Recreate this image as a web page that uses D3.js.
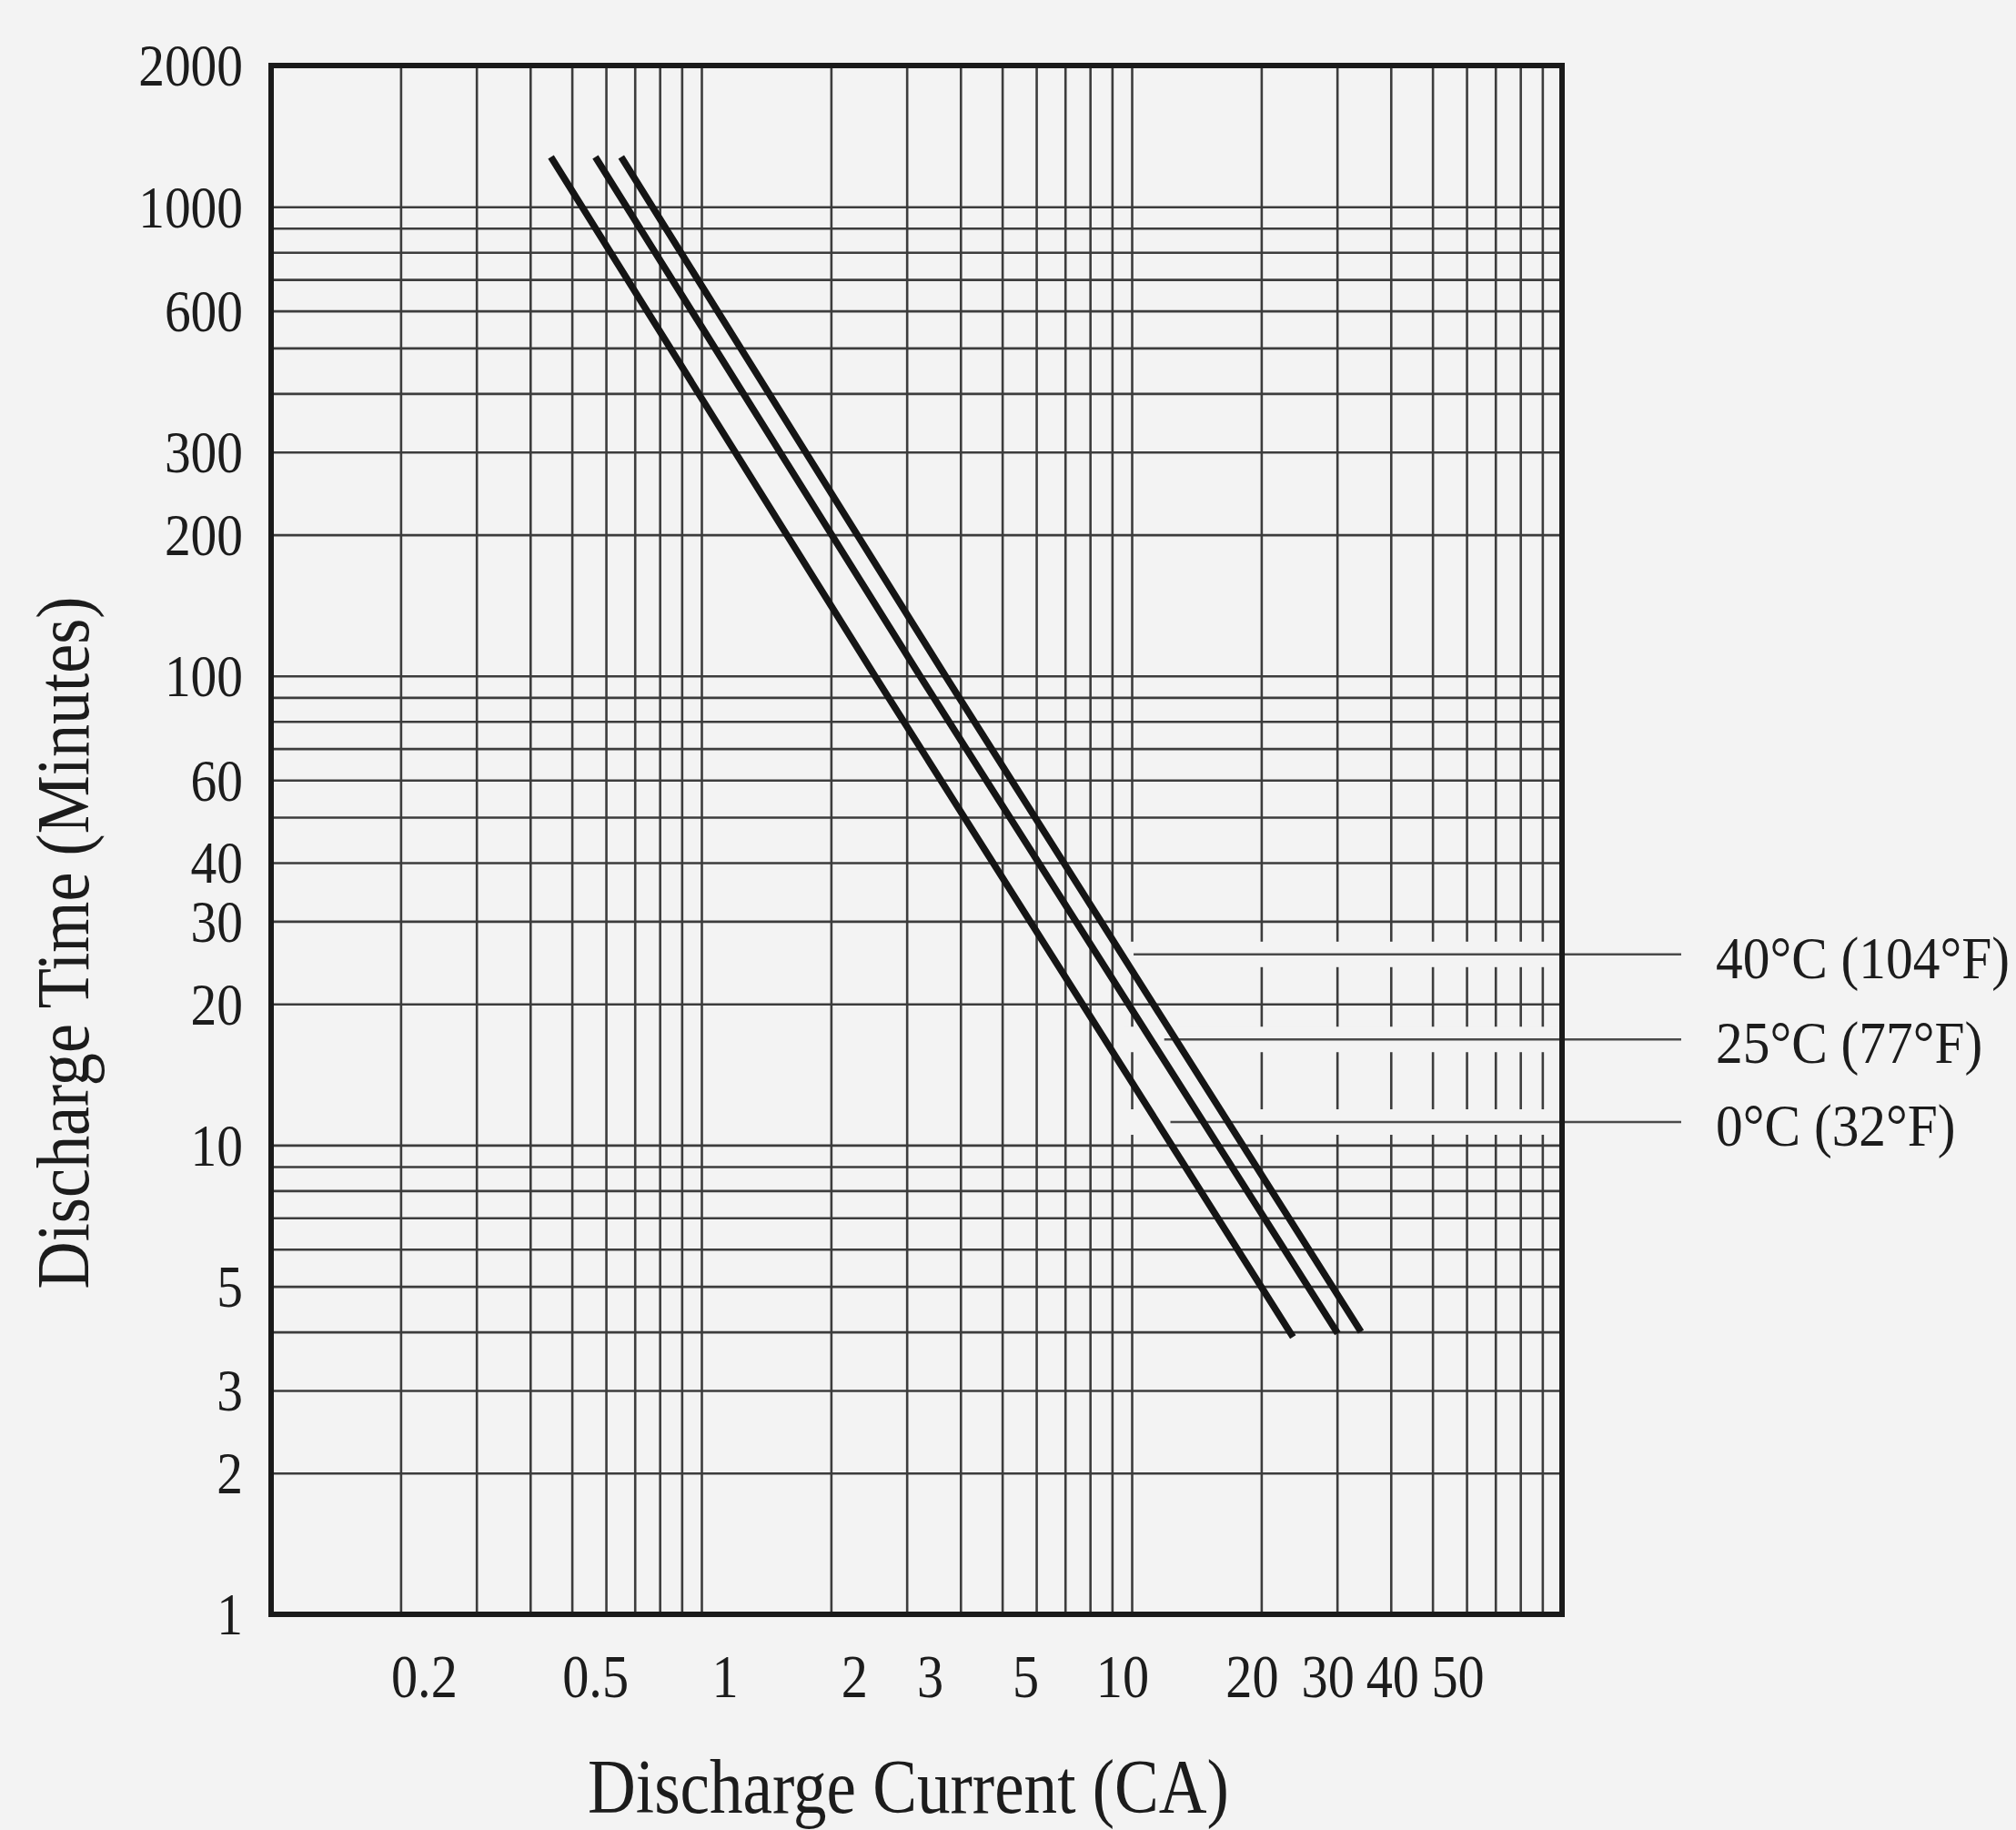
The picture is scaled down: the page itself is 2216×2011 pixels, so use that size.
<!DOCTYPE html>
<html>
<head>
<meta charset="utf-8">
<script src="https://cdn.jsdelivr.net/npm/d3@7"></script>
<style>
  html, body { margin: 0; padding: 0; background: #f3f3f3; }
  svg { display: block; }
  text { font-family: "Liberation Serif", "Times New Roman", serif; fill: #1c1c1c; }
</style>
</head>
<body>
<svg id="chart"></svg>
<script>
// tick labels and grid values
const xTickLabels = [0.2, 0.5, 1, 2, 3, 5, 10, 20, 30, 40, 50];
const yTickLabels = [1, 2, 3, 5, 10, 20, 30, 40, 60, 100, 200, 300, 600, 1000, 2000];
const xGrid = [0.2, 0.3, 0.4, 0.5, 0.6, 0.7, 0.8, 0.9, 1, 2, 3, 4, 5, 6, 7, 8, 9, 10,
  20, 30, 40, 50, 60, 70, 80, 90];
const yGrid = [2, 3, 4, 5, 6, 7, 8, 9, 10, 20, 30, 40, 50, 60, 70, 80, 90, 100,
  200, 300, 400, 500, 600, 700, 800, 900, 1000];

// discharge curves (current in CA, time in minutes)
const temps = ["0°C (32°F)", "25°C (77°F)", "40°C (104°F)"];
const current0C = [0.447, 2.53, 23.7];
const time0C = [1277, 100, 3.9];
const current25C = [0.567, 3.22, 30.1];
const time25C = [1277, 100, 3.97];
const current40C = [0.651, 3.69, 34.1];
const time40C = [1277, 100, 4.0];

// legend leader lines: time level and current where each starts
const leaderTime = [11.2, 16.8, 25.5];
const leaderStart = [12.3, 11.9, 10.1];

const W = 2216, H = 2011;
const M = { left: 298, top: 72, right: 1717, bottom: 1774 };
const BG = "#f3f3f3";
const GRID = "#3c3c3c";

const svg = d3.select("#chart").attr("width", W).attr("height", H);
svg.append("rect").attr("width", W).attr("height", H).attr("fill", BG);

const x = d3.scaleLog().domain([0.1, 100]).range([M.left, M.right]);
const y = d3.scaleLog().domain([1, 2000]).range([M.bottom, M.top]);

// the printed x labels sit a little off their grid lines
const labelNudge = d3.scaleThreshold().domain([10, 40, 50]).range([26, -10, 2, 28]);

// vertical grid
svg.append("g")
  .attr("transform", `translate(0,${M.bottom})`)
  .call(d3.axisBottom(x).tickValues(xGrid).tickSize(-(M.bottom - M.top)).tickFormat(""))
  .call(g => g.select(".domain").remove())
  .selectAll("line").attr("stroke", GRID).attr("stroke-width", 2.6);

// horizontal grid
svg.append("g")
  .attr("transform", `translate(${M.left},0)`)
  .call(d3.axisLeft(y).tickValues(yGrid).tickSize(-(M.right - M.left)).tickFormat(""))
  .call(g => g.select(".domain").remove())
  .selectAll("line").attr("stroke", GRID).attr("stroke-width", 2.6);

// gaps in the vertical grid around the leader lines
svg.append("g").selectAll("rect")
  .data(leaderTime)
  .enter().append("rect")
  .attr("x", x(10) - 8)
  .attr("width", M.right - x(10) + 8)
  .attr("y", d => y(d) - 14)
  .attr("height", 28)
  .attr("fill", BG);

// leader lines
svg.append("g").selectAll("line")
  .data(leaderTime)
  .enter().append("line")
  .attr("x1", (d, i) => x(leaderStart[i]))
  .attr("x2", M.right + 131)
  .attr("y1", d => y(d))
  .attr("y2", d => y(d))
  .attr("stroke", "#4a4a4a")
  .attr("stroke-width", 2.6);

// legend labels
svg.append("g").selectAll("g")
  .data(leaderTime)
  .enter().append("g")
  .attr("transform", d => `translate(${M.right + 169},${y(d) + 26})`)
  .append("text")
  .attr("transform", "scale(0.9,1)")
  .attr("font-size", 66)
  .text((d, i) => temps[i]);

// curves
const series = [
  { current: current0C, time: time0C },
  { current: current25C, time: time25C },
  { current: current40C, time: time40C }
];
const line = d3.line().x(d => x(d[0])).y(d => y(d[1]));
svg.append("g").selectAll("path")
  .data(series)
  .enter().append("path")
  .attr("d", s => line(s.current.map((c, i) => [c, s.time[i]])))
  .attr("fill", "none")
  .attr("stroke", "#151515")
  .attr("stroke-width", 7.5);

// frame
svg.append("rect")
  .attr("x", M.left).attr("y", M.top)
  .attr("width", M.right - M.left).attr("height", M.bottom - M.top)
  .attr("fill", "none").attr("stroke", "#1a1a1a").attr("stroke-width", 6);

// y tick labels
svg.append("g").selectAll("g")
  .data(yTickLabels)
  .enter().append("g")
  .attr("transform", d => `translate(${M.left - 31},${y(d)})`)
  .append("text")
  .attr("transform", "scale(0.87,1)")
  .attr("text-anchor", "end")
  .attr("dy", "0.34em")
  .attr("font-size", 66)
  .text(d => String(d));

// x tick labels
svg.append("g").selectAll("g")
  .data(xTickLabels)
  .enter().append("g")
  .attr("transform", d => `translate(${x(d) + labelNudge(d)},${M.bottom + 91})`)
  .append("text")
  .attr("transform", "scale(0.87,1)")
  .attr("text-anchor", "middle")
  .attr("font-size", 67)
  .text(d => String(d));

// axis titles
svg.append("g")
  .attr("transform", `translate(${(M.left + M.right) / 2 - 9},${M.bottom + 218})`)
  .append("text")
  .attr("transform", "scale(0.87,1)")
  .attr("text-anchor", "middle")
  .attr("font-size", 84)
  .text("Discharge Current (CA)");

svg.append("g")
  .attr("transform", `translate(97,1036) rotate(-90)`)
  .append("text")
  .attr("transform", "scale(0.87,1)")
  .attr("text-anchor", "middle")
  .attr("font-size", 83)
  .text("Discharge Time (Minutes)");
</script>
</body>
</html>
